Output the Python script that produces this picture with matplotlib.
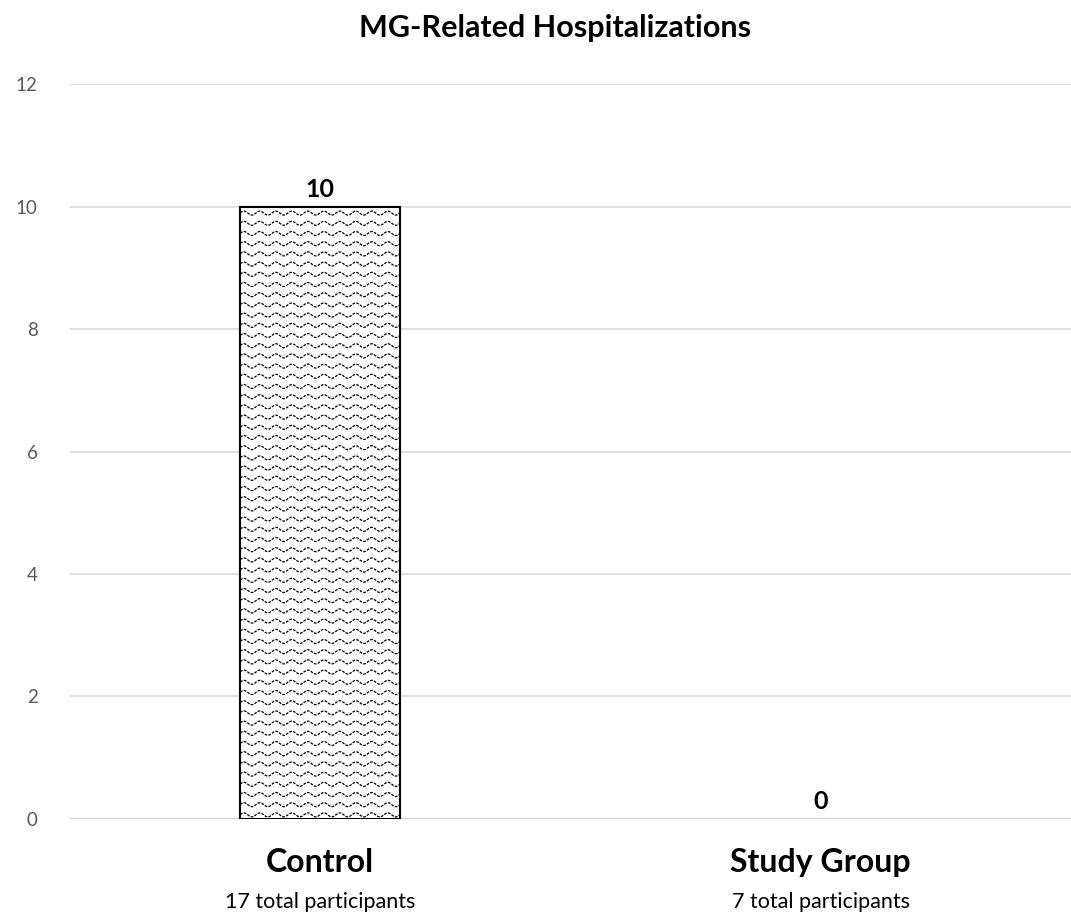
import matplotlib
matplotlib.use("Agg")
import matplotlib.pyplot as plt
import numpy as np
from matplotlib.transforms import IdentityTransform

categories = ["Control", "Study Group"]
hospitalizations = [10, 0]
participants = [17, 7]

plt.rcParams["font.family"] = ["Lato", "DejaVu Sans"]

fig = plt.figure(figsize=(10.71, 9.16), dpi=100)
ax = fig.add_axes([0.065, 0.106, 0.935, 0.802])

positions = np.arange(len(categories))
bars = ax.bar(
    positions,
    hospitalizations,
    0.32,
    color="white",
    edgecolor="black",
    linewidth=1.5,
    zorder=3,
)

ax.set_xlim(-0.5, len(categories) - 0.5)
ax.set_ylim(0, 12)
ax.set_yticks(np.arange(0, 13, 2))
ax.set_xticks([])

ax.grid(axis="y", color="#d9d9d9", linewidth=1.2, zorder=0)
ax.set_axisbelow(True)
for side in ["top", "right", "left", "bottom"]:
    ax.spines[side].set_visible(False)
ax.axhline(0, color="#d0d0d0", linewidth=1.5, zorder=2)

ax.tick_params(axis="y", length=0, pad=23, labelsize=13.5, labelcolor="#595959")

# wavy texture inside the bars, drawn in pixel space and clipped to each bar
fig.canvas.draw()
for bar in bars:
    if bar.get_height() <= 0:
        bar.set_linewidth(0)
        continue
    (x0, y0), (x1, y1) = ax.transData.transform(
        [(bar.get_x(), 0), (bar.get_x() + bar.get_width(), bar.get_height())]
    )
    xs = np.arange(x0 - 10, x1 + 10, 0.5)
    for yy in np.arange(y0 + 4, y1 + 10, 10.2):
        ln, = ax.plot(
            xs,
            yy + 2.0 * np.sin(2 * np.pi * (xs - x0) / 16.0),
            color="black",
            linewidth=0.9,
            linestyle=(0, (2.2, 1.0)),
            transform=IdentityTransform(),
            zorder=4,
        )
        ln.set_clip_path(bar)

for pos, val in zip(positions, hospitalizations):
    ax.annotate(
        f"{val}",
        (pos, val),
        xytext=(0, 4),
        textcoords="offset points",
        ha="center",
        va="bottom",
        fontsize=18,
        fontweight="bold",
        color="black",
    )

for pos, cat, n in zip(positions, categories, participants):
    ax.text(
        pos, -0.059, cat,
        transform=ax.get_xaxis_transform(),
        ha="center", va="center",
        fontsize=23, fontweight="bold", color="black",
    )
    ax.text(
        pos, -0.113, f"{n} total participants",
        transform=ax.get_xaxis_transform(),
        ha="center", va="center",
        fontsize=15.5, color="black",
    )

fig.text(
    0.518, 0.969, "MG-Related Hospitalizations",
    ha="center", va="center",
    fontsize=22, fontweight="bold", color="black",
)

fig.savefig("out.png", dpi=100)
